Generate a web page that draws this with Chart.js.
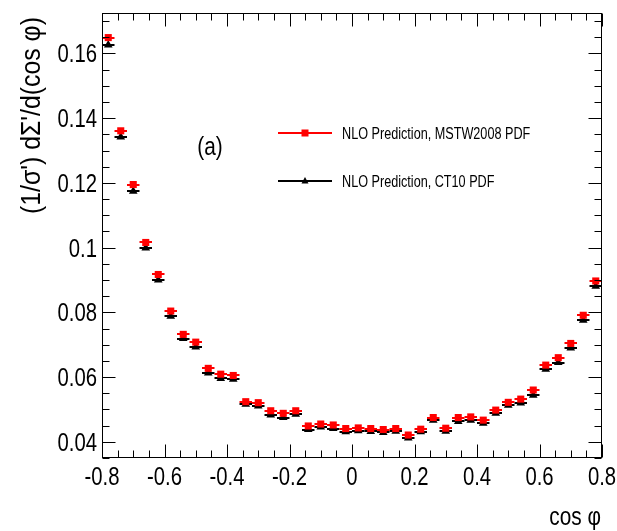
<!DOCTYPE html>
<html>
<head>
<meta charset="utf-8">
<script src="https://cdn.jsdelivr.net/npm/chart.js@4.4.1/dist/chart.umd.min.js"></script>
<style>
  html, body { margin: 0; padding: 0; background: #fff; }
  #plot { display: block; }
</style>
</head>
<body>
<canvas id="plot" width="617" height="531"></canvas>
<script>
// bin centres in cos(phi), bins of width 0.04
const binCenters = [
  -0.78, -0.74, -0.70, -0.66, -0.62, -0.58, -0.54, -0.50, -0.46, -0.42,
  -0.38, -0.34, -0.30, -0.26, -0.22, -0.18, -0.14, -0.10, -0.06, -0.02,
  0.02, 0.06, 0.10, 0.14, 0.18, 0.22, 0.26, 0.30, 0.34, 0.38,
  0.42, 0.46, 0.50, 0.54, 0.58, 0.62, 0.66, 0.70, 0.74, 0.78
];
const binHalfWidth = 0.02;

const mstw2008 = [
  0.1649, 0.1361, 0.1195, 0.1016, 0.0917, 0.0804, 0.0732, 0.0708, 0.0627, 0.0609,
  0.0605, 0.0524, 0.0521, 0.0496, 0.0488, 0.0496, 0.0449, 0.0455, 0.0452, 0.0441,
  0.0443, 0.0441, 0.0438, 0.0441, 0.0421, 0.0439, 0.0475, 0.0442, 0.0475, 0.0477,
  0.0467, 0.0498, 0.0522, 0.0532, 0.0560, 0.0637, 0.0660, 0.0704, 0.0791, 0.0897
];
const ct10 = [
  0.1626, 0.1342, 0.1174, 0.0999, 0.0900, 0.0788, 0.0719, 0.0693, 0.0613, 0.0596,
  0.0593, 0.0516, 0.0511, 0.0483, 0.0475, 0.0485, 0.0438, 0.0446, 0.0441, 0.0431,
  0.0434, 0.0432, 0.0429, 0.0433, 0.0412, 0.0431, 0.0467, 0.0433, 0.0463, 0.0467,
  0.0457, 0.0488, 0.0513, 0.0520, 0.0544, 0.0624, 0.0645, 0.0690, 0.0776, 0.0881
];

const seriesNames = ["NLO Prediction, MSTW2008 PDF", "NLO Prediction, CT10 PDF"];

const xTickValues = [-0.8, -0.6, -0.4, -0.2, 0, 0.2, 0.4, 0.6, 0.8];
const xTickLabels = ["-0.8", "-0.6", "-0.4", "-0.2", "0", "0.2", "0.4", "0.6", "0.8"];
const yTickValues = [0.04, 0.06, 0.08, 0.1, 0.12, 0.14, 0.16];
const yTickLabels = ["0.04", "0.06", "0.08", "0.1", "0.12", "0.14", "0.16"];

const xTitle = "cos \u03c6";
const yTitle = "(1/\u03c3') d\u03a3'/d(cos \u03c6)";
const panelLabel = "(a)";

const FONT = '"Liberation Sans", Arial, sans-serif';

function drawText(ctx, s, x, y, size, sx, align, baseline, rot) {
  ctx.save();
  ctx.translate(x, y);
  if (rot) ctx.rotate(rot);
  ctx.scale(sx, 1);
  ctx.font = size + "px " + FONT;
  ctx.textAlign = align;
  ctx.textBaseline = baseline;
  ctx.fillStyle = "#000";
  ctx.fillText(s, 0, 0);
  ctx.restore();
}

// horizontal bin-width bars under the markers
const binBars = {
  id: "binBars",
  beforeDatasetsDraw(chart) {
    const ctx = chart.ctx;
    const xs = chart.scales.x, ys = chart.scales.y;
    const sets = [[ct10, "#000000"], [mstw2008, "#ff0000"]];
    ctx.save();
    ctx.lineWidth = 2;
    sets.forEach(([vals, col]) => {
      ctx.strokeStyle = col;
      vals.forEach((v, i) => {
        const y = Math.round(ys.getPixelForValue(v));
        ctx.beginPath();
        ctx.moveTo(xs.getPixelForValue(binCenters[i] - binHalfWidth), y);
        ctx.lineTo(xs.getPixelForValue(binCenters[i] + binHalfWidth), y);
        ctx.stroke();
      });
    });
    ctx.restore();
  }
};

// ROOT-style frame, inward ticks, labels, legend
const rootFrame = {
  id: "rootFrame",
  afterDraw(chart) {
    const ctx = chart.ctx;
    const a = chart.chartArea;
    const xs = chart.scales.x, ys = chart.scales.y;
    const L = Math.round(a.left) + 0.5, R = Math.round(a.right) - 0.5;
    const T = Math.round(a.top) + 0.5, B = Math.round(a.bottom) - 0.5;

    ctx.save();
    ctx.strokeStyle = "#000";
    ctx.lineWidth = 1;
    ctx.strokeRect(L, T, R - L, B - T);

    ctx.beginPath();
    // x ticks: major 0.2, minor 0.05
    for (let k = -16; k <= 16; k++) {
      const v = k * 0.05;
      const px = Math.round(xs.getPixelForValue(v)) + 0.5;
      const len = (k % 4 === 0) ? 13 : 7;
      ctx.moveTo(px, B); ctx.lineTo(px, B - len);
      ctx.moveTo(px, T); ctx.lineTo(px, T + len);
    }
    // y ticks: major 0.02, minor 0.005
    for (let k = 7; k <= 34; k++) {
      const v = k * 0.005;
      if (v < ys.min || v > ys.max) continue;
      const py = Math.round(ys.getPixelForValue(v)) + 0.5;
      const len = (k % 4 === 0) ? 13 : 7;
      ctx.moveTo(L, py); ctx.lineTo(L + len, py);
      ctx.moveTo(R, py); ctx.lineTo(R - len, py);
    }
    ctx.stroke();

    // tick labels
    xTickValues.forEach((v, i) => {
      drawText(ctx, xTickLabels[i], xs.getPixelForValue(v), a.bottom + 27, 26, 0.78, "center", "alphabetic");
    });
    yTickValues.forEach((v, i) => {
      drawText(ctx, yTickLabels[i], a.left - 5, ys.getPixelForValue(v) + 9, 26, 0.78, "right", "alphabetic");
    });

    // axis titles
    drawText(ctx, xTitle, a.right - 1, 525, 26, 0.8, "right", "alphabetic");
    drawText(ctx, yTitle, 40, 17, 27, 0.92, "right", "alphabetic", -Math.PI / 2);

    // panel label
    drawText(ctx, panelLabel, 210, 155, 26, 0.8, "center", "alphabetic");

    // legend
    const lx0 = 278, lx1 = 332, lmid = 305, tx = 342;
    const rows = [
      { y: 133, col: "#ff0000", style: "rect" },
      { y: 181, col: "#000000", style: "triangle" }
    ];
    rows.forEach((r, i) => {
      ctx.strokeStyle = r.col;
      ctx.fillStyle = r.col;
      ctx.lineWidth = 2;
      ctx.beginPath();
      ctx.moveTo(lx0, r.y); ctx.lineTo(lx1, r.y);
      ctx.stroke();
      if (r.style === "rect") {
        ctx.fillRect(lmid - 3.5, r.y - 3.5, 7, 7);
      } else {
        ctx.beginPath();
        ctx.moveTo(lmid, r.y - 4);
        ctx.lineTo(lmid + 3.5, r.y + 2.5);
        ctx.lineTo(lmid - 3.5, r.y + 2.5);
        ctx.closePath();
        ctx.fill();
      }
      drawText(ctx, seriesNames[i], tx, r.y + 6, 16, 0.79, "left", "alphabetic");
    });
    ctx.restore();
  }
};

new Chart(document.getElementById("plot"), {
  type: "scatter",
  data: {
    datasets: [
      {
        label: seriesNames[0],
        data: binCenters.map((x, i) => ({ x: x, y: mstw2008[i] })),
        pointStyle: "rect",
        pointRadius: 5,
        backgroundColor: "#ff0000",
        borderColor: "#ff0000",
        borderWidth: 0,
        showLine: false
      },
      {
        label: seriesNames[1],
        data: binCenters.map((x, i) => ({ x: x, y: ct10[i] })),
        pointStyle: "triangle",
        pointRadius: 5,
        backgroundColor: "#000000",
        borderColor: "#000000",
        borderWidth: 0,
        showLine: false
      }
    ]
  },
  options: {
    responsive: false,
    animation: false,
    devicePixelRatio: 1,
    layout: { padding: { left: 102, right: 15, top: 13, bottom: 73 } },
    scales: {
      x: { type: "linear", display: false, min: -0.8, max: 0.8 },
      y: { type: "linear", display: false, min: 0.035, max: 0.1725 }
    },
    plugins: {
      legend: { display: false },
      tooltip: { enabled: false }
    }
  },
  plugins: [binBars, rootFrame]
});
</script>
</body>
</html>
